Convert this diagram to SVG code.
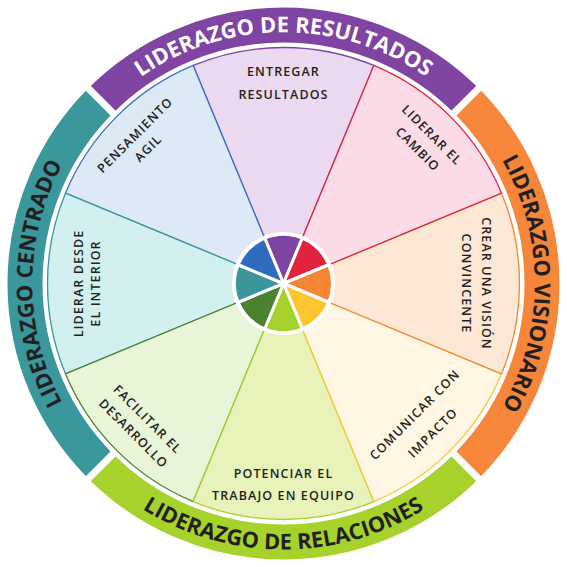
<svg xmlns="http://www.w3.org/2000/svg" width="567" height="567" viewBox="0 0 567 567">
<style>
.ring{fill:none;stroke-width:35}
.cut{stroke:#fff;stroke-width:7}
.rt{font-family:"Open Sans","Noto Sans","Liberation Sans",sans-serif;font-weight:700;font-size:21.8px;letter-spacing:0px}
.lb{font-family:"Open Sans","Noto Sans","Liberation Sans",sans-serif;font-weight:600;font-size:12.5px;letter-spacing:1.1px;fill:#231f20;text-anchor:middle}
.seg{stroke-width:1.3;stroke-linejoin:round}
.in{stroke:#fff;stroke-width:3;stroke-linejoin:round}
</style>
<defs>
<path id="pTop" d="M106,106 A251,251 0 0 1 461,106"/>
<path id="pRight" d="M461,106 A251,251 0 0 1 461,461"/>
<path id="pBottom" d="M95.4,471.6 A266,266 0 0 0 471.6,471.6"/>
<path id="pLeft" d="M106,461 A251,251 0 0 1 106,106"/>
</defs>
<rect width="567" height="567" fill="#fff"/>
<g id="outer-ring">
<path class="ring" stroke="#8044a2" d="M100.71,100.71 A258.5,258.5 0 0 1 466.29,100.71"/>
<path class="ring" stroke="#f5863a" d="M466.29,100.71 A258.5,258.5 0 0 1 466.29,466.29"/>
<path class="ring" stroke="#a6d22b" d="M466.29,466.29 A258.5,258.5 0 0 1 100.71,466.29"/>
<path class="ring" stroke="#3a979b" d="M100.71,466.29 A258.5,258.5 0 0 1 100.71,100.71"/>
<line class="cut" x1="115.2" y1="115.2" x2="80" y2="80"/>
<line class="cut" x1="451.8" y1="115.2" x2="487" y2="80"/>
<line class="cut" x1="451.8" y1="451.8" x2="487" y2="487"/>
<line class="cut" x1="115.2" y1="451.8" x2="80" y2="487"/>
</g>
<g id="ring-labels">
<text class="rt" fill="#fff"><textPath href="#pTop" startOffset="50%" text-anchor="middle">LIDERAZGO DE RESULTADOS</textPath></text>
<text class="rt" fill="#231f20"><textPath href="#pRight" startOffset="50%" text-anchor="middle">LIDERAZGO VISIONARIO</textPath></text>
<text class="rt" fill="#231f20"><textPath href="#pBottom" startOffset="50%" text-anchor="middle">LIDERAZGO DE RELACIONES</textPath></text>
<text class="rt" fill="#231f20"><textPath href="#pLeft" startOffset="50%" text-anchor="middle">LIDERAZGO CENTRADO</textPath></text>
</g>
<g id="segments">
<path id="seg-entregar" class="seg" fill="#ebd9ef" stroke="#7d44a4" d="M283.5,283.5 L193.19,65.46 A236,236 0 0 1 373.81,65.46 Z"/>
<path id="seg-pensamiento" class="seg" fill="#dde9f5" stroke="#3570c2" d="M283.5,283.5 L65.46,193.19 A236,236 0 0 1 193.19,65.46 Z"/>
<path id="seg-interior" class="seg" fill="#d2f0ef" stroke="#3a969a" d="M283.5,283.5 L65.46,373.81 A236,236 0 0 1 65.46,193.19 Z"/>
<path id="seg-facilitar" class="seg" fill="#e8f5d8" stroke="#4a8230" d="M283.5,283.5 L193.19,501.54 A236,236 0 0 1 65.46,373.81 Z"/>
<path id="seg-potenciar" class="seg" fill="#e7f3b8" stroke="#a6d12a" d="M283.5,283.5 L373.81,501.54 A236,236 0 0 1 193.19,501.54 Z"/>
<path id="seg-comunicar" class="seg" fill="#fff7e4" stroke="#fdc530" d="M283.5,283.5 L501.54,373.81 A236,236 0 0 1 373.81,501.54 Z"/>
<path id="seg-crear" class="seg" fill="#fde7d5" stroke="#f58634" d="M283.5,283.5 L501.54,193.19 A236,236 0 0 1 501.54,373.81 Z"/>
<path id="seg-cambio" class="seg" fill="#fbdbe5" stroke="#e0233f" d="M283.5,283.5 L373.81,65.46 A236,236 0 0 1 501.54,193.19 Z"/>
</g>
<g id="hub">
<circle cx="283.5" cy="283.5" r="51.5" fill="#fff"/>
<path class="in" fill="#7d44a4" d="M283.5,283.5 L264.75,238.23 A49,49 0 0 1 302.25,238.23 Z"/>
<path class="in" fill="#e0233f" d="M283.5,283.5 L302.25,238.23 A49,49 0 0 1 328.77,264.75 Z"/>
<path class="in" fill="#f58634" d="M283.5,283.5 L328.77,264.75 A49,49 0 0 1 328.77,302.25 Z"/>
<path class="in" fill="#fdc530" d="M283.5,283.5 L328.77,302.25 A49,49 0 0 1 302.25,328.77 Z"/>
<path class="in" fill="#a6d12a" d="M283.5,283.5 L302.25,328.77 A49,49 0 0 1 264.75,328.77 Z"/>
<path class="in" fill="#4a8230" d="M283.5,283.5 L264.75,328.77 A49,49 0 0 1 238.23,302.25 Z"/>
<path class="in" fill="#3a969a" d="M283.5,283.5 L238.23,302.25 A49,49 0 0 1 238.23,264.75 Z"/>
<path class="in" fill="#2f6cc0" d="M283.5,283.5 L238.23,264.75 A49,49 0 0 1 264.75,238.23 Z"/>
</g>
<g id="label-entregar" transform="translate(283.5 283.5)">
<text class="lb" x="0" y="-207.5">ENTREGAR</text>
<text class="lb" x="0" y="-185">RESULTADOS</text>
</g>
<g id="label-cambio" transform="translate(283.5 283.5) rotate(45)">
<text class="lb" x="0" y="-205.5">LIDERAR EL</text>
<text class="lb" x="0" y="-185.5">CAMBIO</text>
</g>
<g id="label-crear" transform="translate(283.5 283.5) rotate(90)">
<text class="lb" x="0" y="-198">CREAR UNA VISIÓN</text>
<text class="lb" x="0" y="-178">CONVINCENTE</text>
</g>
<g id="label-comunicar" transform="translate(283.5 283.5) rotate(-45)">
<text class="lb" x="0" y="190">COMUNICAR CON</text>
<text class="lb" x="0" y="215.5">IMPACTO</text>
</g>
<g id="label-potenciar" transform="translate(283.5 283.5)">
<text class="lb" x="0" y="194.5">POTENCIAR EL</text>
<text class="lb" x="0" y="216">TRABAJO EN EQUIPO</text>
</g>
<g id="label-facilitar" transform="translate(283.5 283.5) rotate(45)">
<text class="lb" x="0" y="196.5">FACILITAR EL</text>
<text class="lb" x="0" y="216.5">DESARROLLO</text>
</g>
<g id="label-interior" transform="translate(283.5 283.5) rotate(-90)">
<text class="lb" x="0" y="-201">LIDERAR DESDE</text>
<text class="lb" x="0" y="-183.5">EL INTERIOR</text>
</g>
<g id="label-pensamiento" transform="translate(283.5 283.5) rotate(-45)">
<text class="lb" x="0" y="-205.5">PENSAMIENTO</text>
<text class="lb" x="0" y="-187">AGIL</text>
</g>
</svg>
